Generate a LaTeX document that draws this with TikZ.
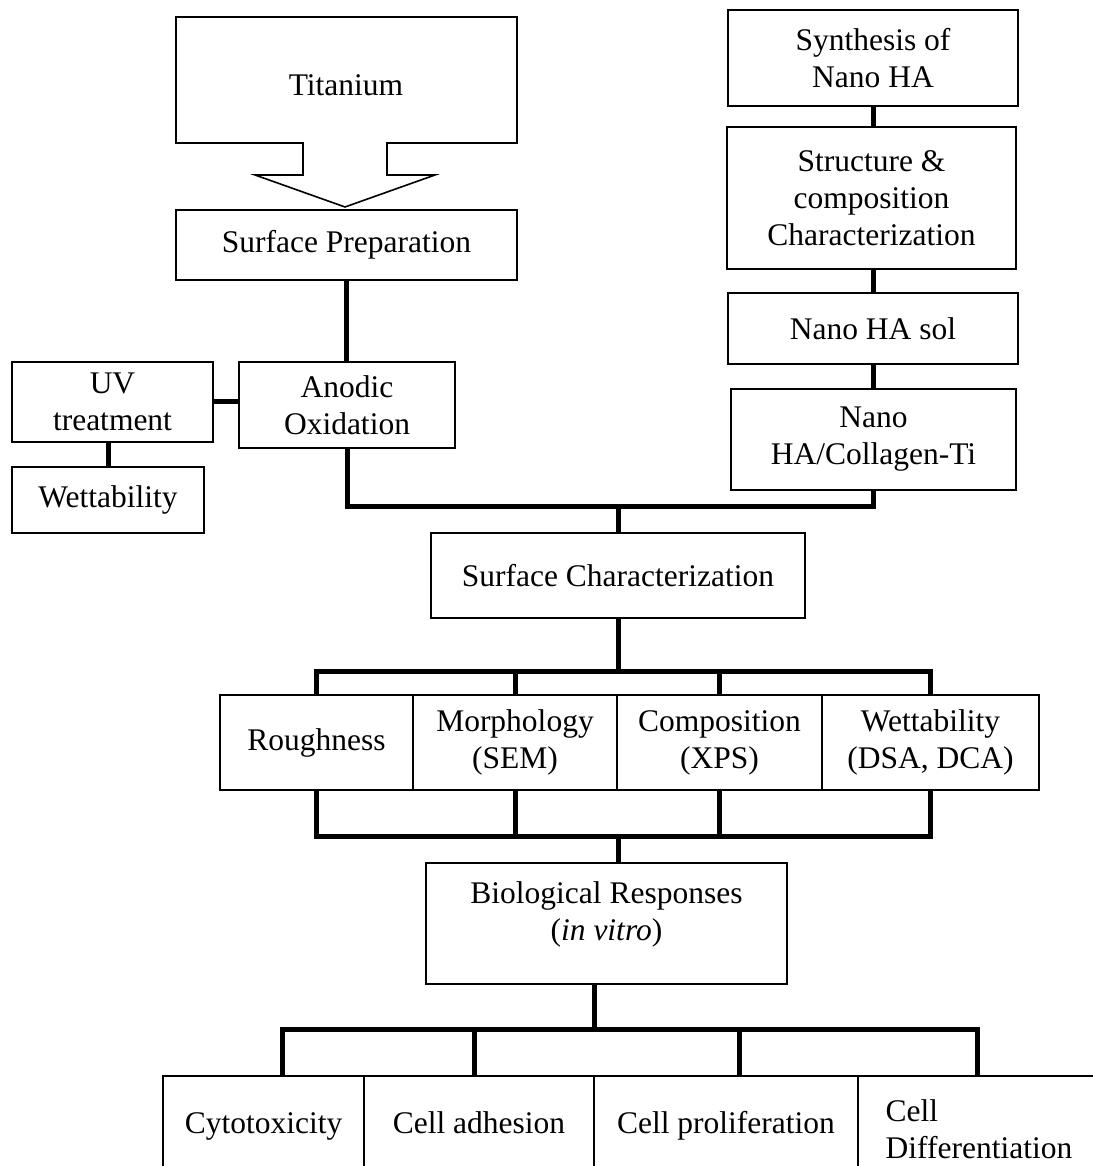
\documentclass[tikz,border=0pt]{standalone}
\usepackage{fontspec}
\setmainfont{Liberation Serif}
\begin{document}
\begin{tikzpicture}[line join=miter,
  box/.style={draw=black,rectangle,line width=1.6bp,align=center,inner sep=0pt},
  oneline/.style={text height=21bp,text depth=7bp},
  link/.style={line width=5bp},
  every node/.style={font=\fontsize{31.5bp}{37bp}\selectfont}]
\clip (0bp,0bp) rectangle (1093bp,1166bp);
%%
\node (ti) at (346bp,1081bp) {Titanium};
\draw [line width=1.6bp] (176bp,1149bp) -- (517bp,1149bp) -- (517bp,1023bp) -- (387bp,1023bp) -- (387bp,991bp) -- (435bp,991bp) -- (345bp,959bp) -- (255bp,991bp) -- (303bp,991bp) -- (303bp,1023bp) -- (176bp,1023bp) -- cycle;
  \node (sp) at (346.5bp,921bp) [box,minimum width=341bp,minimum height=70bp] {Surface Preparation};
  \node (uv) at (112.5bp,764bp) [box,minimum width=201bp,minimum height=80bp] {UV\\treatment};
  \node (ano) at (347bp,761bp) [box,minimum width=216bp,minimum height=86bp] {Anodic\\Oxidation};
  \node (wetuv) at (108bp,666bp) [box,minimum width=192bp,minimum height=66bp] {Wettability};
  \node (syn) at (873bp,1108bp) [box,minimum width=290bp,minimum height=96bp] {Synthesis of\\Nano HA};
  \node (str) at (871.5bp,968bp) [box,minimum width=289bp,minimum height=142bp] {Structure \&\\composition\\Characterization};
  \node (sol) at (873bp,837.5bp) [box,minimum width=290bp,minimum height=71bp] {Nano HA sol};
  \node (coll) at (873.5bp,726.5bp) [box,minimum width=285bp,minimum height=101bp] {Nano\\HA/Collagen-Ti};
  \node (sc) at (618bp,590.5bp) [box,minimum width=374bp,minimum height=85bp] {Surface Characterization};
  \node (rough) at (316.5bp,423.5bp) [box,minimum width=193bp,minimum height=95bp] {Roughness};
  \node (morph) at (515bp,423.5bp) [box,minimum width=204bp,minimum height=95bp] {Morphology\\(SEM)};
  \node (comp) at (719.5bp,423.5bp) [box,minimum width=205bp,minimum height=95bp] {Composition\\(XPS)};
  \node (wetr) at (930.5bp,423.5bp) [box,minimum width=217bp,minimum height=95bp] {Wettability\\(DSA, DCA)};
  \node (bio) at (606.5bp,242.5bp) [box,minimum width=361bp,minimum height=121bp] {};
  \node (biotxt) at (606.5bp,251.5bp) [align=center] {Biological Responses\\(\textit{in vitro})};
  \node (cyto) at (263.5bp,40bp) [box,oneline,minimum width=201bp,minimum height=100bp] {Cytotoxicity};
  \node (adh) at (479bp,40bp) [box,oneline,minimum width=230bp,minimum height=100bp] {Cell adhesion};
  \node (prol) at (726bp,40bp) [box,oneline,minimum width=264bp,minimum height=100bp] {Cell proliferation};
  \node (diff) at (979bp,37bp) [box,minimum width=242bp,minimum height=106bp,align=left] {Cell\\Differentiation};
  \coordinate (mid) at (618bp,659bp);
  \coordinate (bus1) at (618bp,494bp);
  \coordinate (bus2) at (618bp,329bp);
  \coordinate (bus3) at (594bp,136bp);
  % left branch
  \draw [link] (sp.south) -- (sp.south |- ano.north);
  \draw [link] (uv.east) -- (uv.east -| ano.west);
  \draw [link] (wetuv.north |- uv.south) -- (wetuv.north);
  \draw [link] (ano.south) |- (mid) -| (coll.south);
  % right branch
  \draw [link] (syn.south) -- (syn.south |- str.north);
  \draw [link] (sol.north |- str.south) -- (sol.north);
  \draw [link] (sol.south) -- (sol.south |- coll.north);
  \draw [link] (mid) -- (mid |- sc.north);
  % characterization
  \draw [link] (sc.south) -- (bus1);
  \draw [link] (rough.north) |- (bus1) -| (wetr.north);
  \draw [link] (morph.north) -- (morph.north |- bus1);
  \draw [link] (comp.north) -- (comp.north |- bus1);
  \draw [link] (rough.south) |- (bus2) -| (wetr.south);
  \draw [link] (morph.south) -- (morph.south |- bus2);
  \draw [link] (comp.south) -- (comp.south |- bus2);
  \draw [link] (bus2) -- (bus2 |- bio.north);
  % responses
  \draw [link] (bus3 |- bio.south) -- (bus3);
  \draw [link] ([xshift=18.5bp]cyto.north) |- (bus3) -| ([xshift=-2bp]diff.north);
  \draw [link] ([xshift=-5bp]adh.north) -- ([xshift=-5bp]adh.north |- bus3);
  \draw [link] ([xshift=13bp]prol.north) -- ([xshift=13bp]prol.north |- bus3);
%
\end{tikzpicture}
\end{document}
